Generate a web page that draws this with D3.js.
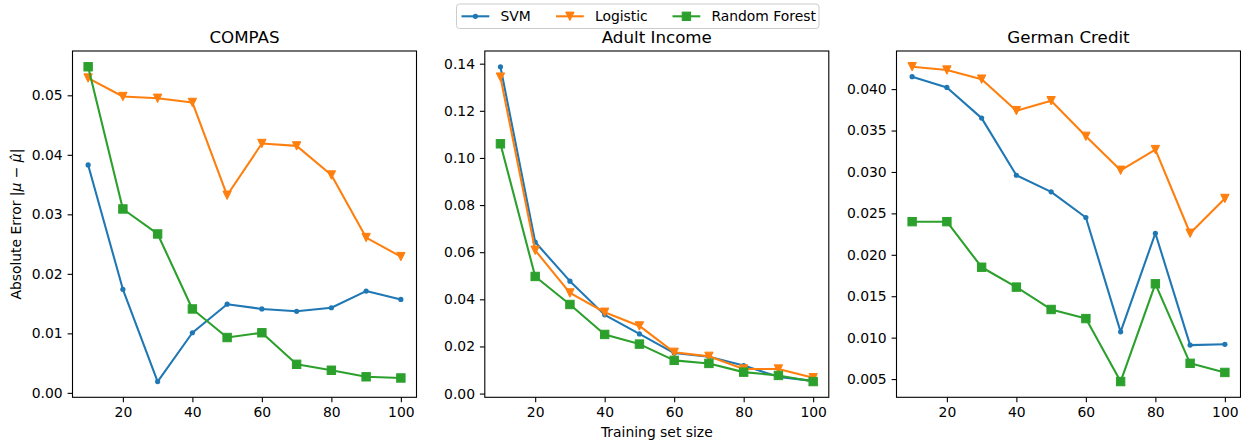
<!DOCTYPE html>
<html>
<head>
<meta charset="utf-8">
<script src="https://cdn.jsdelivr.net/npm/d3@7"></script>
<style>
  body { margin: 0; background: #fff; }
  text { font-family: "DejaVu Sans", sans-serif; fill: #000; }
</style>
</head>
<body>
<div id="chart"></div>
<script>
// training set sizes (x)
var sizes = [10, 20, 30, 40, 50, 60, 70, 80, 90, 100];
var models = ["SVM", "Logistic", "Random Forest"];
var colors = ["#1f77b4", "#ff7f0e", "#2ca02c"];

// COMPAS
var compasSVM = [0.0383, 0.0174, 0.0019, 0.0101, 0.0149, 0.0141, 0.0137, 0.0143, 0.0171, 0.0157];
var compasLog = [0.0529, 0.0498, 0.0495, 0.0488, 0.0332, 0.0419, 0.0415, 0.0366, 0.0261, 0.0229];
var compasRF  = [0.0548, 0.0309, 0.0267, 0.0141, 0.0093, 0.0101, 0.0048, 0.0038, 0.0027, 0.0025];

// Adult Income
var adultSVM = [0.1387, 0.0643, 0.0477, 0.0334, 0.0253, 0.0172, 0.0156, 0.0119, 0.0071, 0.0054];
var adultLog = [0.1343, 0.0608, 0.0427, 0.0345, 0.0287, 0.0175, 0.0158, 0.0104, 0.0104, 0.0067];
var adultRF  = [0.1060, 0.0497, 0.0378, 0.0251, 0.0210, 0.0141, 0.0128, 0.0091, 0.0077, 0.0051];

// German Credit
var germanSVM = [0.0415, 0.0402, 0.0365, 0.0296, 0.0276, 0.0245, 0.0107, 0.0226, 0.0091, 0.0092];
var germanLog = [0.0427, 0.0423, 0.0412, 0.0374, 0.0386, 0.0343, 0.0302, 0.0327, 0.0226, 0.0268];
var germanRF  = [0.0240, 0.0240, 0.0185, 0.0161, 0.0134, 0.0123, 0.0047, 0.0165, 0.0069, 0.0058];

var xTicks = [20, 40, 60, 80, 100];
var compasTicks = [0, 0.01, 0.02, 0.03, 0.04, 0.05];
var adultTicks = [0, 0.02, 0.04, 0.06, 0.08, 0.10, 0.12, 0.14];
var germanTicks = [0.005, 0.010, 0.015, 0.020, 0.025, 0.030, 0.035, 0.040];

var panels = [
  {title: "COMPAS", series: [compasSVM, compasLog, compasRF], ticks: compasTicks, fmt: ".2f", left: 72.5},
  {title: "Adult Income", series: [adultSVM, adultLog, adultRF], ticks: adultTicks, fmt: ".2f", left: 484.8},
  {title: "German Credit", series: [germanSVM, germanLog, germanRF], ticks: germanTicks, fmt: ".3f", left: 896.5}
];

var W = 1241, H = 440;
var plotTop = 51, plotBottom = 397.3, pw = 344;

var svg = d3.select("#chart").append("svg")
  .attr("width", W).attr("height", H);

function pad(ext) {
  var m = (ext[1] - ext[0]) * 0.05;
  return [ext[0] - m, ext[1] + m];
}

function drawMarker(g, i, cx, cy) {
  var c = colors[i];
  if (i === 0) {
    g.append("circle").attr("cx", cx).attr("cy", cy).attr("r", 2.6).attr("fill", c);
  } else if (i === 1) {
    var s = 4.2;
    g.append("path")
      .attr("d", "M" + (cx - s) + "," + (cy - s) + "L" + (cx + s) + "," + (cy - s) + "L" + cx + "," + (cy + s) + "Z")
      .attr("fill", c).attr("stroke", c).attr("stroke-width", 1).attr("stroke-linejoin", "miter");
  } else {
    g.append("rect").attr("x", cx - 4.2).attr("y", cy - 4.2).attr("width", 8.4).attr("height", 8.4)
      .attr("fill", c).attr("stroke", c).attr("stroke-width", 1);
  }
}

panels.forEach(function(p) {
  var x = d3.scaleLinear().domain(pad(d3.extent(sizes))).range([p.left, p.left + pw]);
  var all = [].concat.apply([], p.series);
  var y = d3.scaleLinear().domain(pad(d3.extent(all))).range([plotBottom, plotTop]);

  var g = svg.append("g");

  // axes
  var xa = g.append("g").attr("transform", "translate(0," + plotBottom + ")")
    .call(d3.axisBottom(x).tickValues(xTicks).tickSize(4.9).tickPadding(4.9).tickFormat(d3.format("d")));
  var ya = g.append("g").attr("transform", "translate(" + p.left + ",0)")
    .call(d3.axisLeft(y).tickValues(p.ticks).tickSize(4.9).tickPadding(4.9).tickFormat(d3.format(p.fmt)));
  [xa, ya].forEach(function(a) {
    a.select(".domain").remove();
    a.selectAll(".tick line").attr("stroke", "#000").attr("stroke-width", 1.1);
    a.selectAll(".tick text").style("font-size", "13.9px").style("font-family", "DejaVu Sans").attr("fill", "#000");
  });

  // series
  p.series.forEach(function(vals, i) {
    var line = d3.line().x(function(d, k) { return x(sizes[k]); }).y(function(d) { return y(d); });
    g.append("path").datum(vals).attr("d", line)
      .attr("fill", "none").attr("stroke", colors[i]).attr("stroke-width", 2.08).attr("stroke-linejoin", "round");
    vals.forEach(function(v, k) { drawMarker(g, i, x(sizes[k]), y(v)); });
  });

  // frame
  g.append("rect").attr("x", p.left).attr("y", plotTop).attr("width", pw).attr("height", plotBottom - plotTop)
    .attr("fill", "none").attr("stroke", "#000").attr("stroke-width", 1.1);

  g.append("text").attr("x", p.left + pw / 2).attr("y", plotTop - 8.5)
    .attr("text-anchor", "middle").style("font-size", "16.7px").text(p.title);
});

// y label
var yl = svg.append("text")
  .attr("transform", "translate(21," + ((plotTop + plotBottom) / 2) + ") rotate(-90)")
  .attr("text-anchor", "middle").style("font-size", "13.9px");
yl.append("tspan").text("Absolute Error |");
yl.append("tspan").style("font-style", "italic").text("μ");
yl.append("tspan").text(" − ");
yl.append("tspan").style("font-style", "italic").text("μ\u0302");
yl.append("tspan").text("|");

// x label
svg.append("text").attr("x", 484.8 + pw / 2).attr("y", 436.5)
  .attr("text-anchor", "middle").style("font-size", "13.9px").text("Training set size");

// legend
var lg = svg.append("g");
lg.append("rect").attr("x", 456.5).attr("y", 4).attr("width", 362.5).attr("height", 24.5)
  .attr("rx", 3).attr("fill", "#fff").attr("stroke", "#ccc").attr("stroke-width", 1);
var legX = [461.5, 556, 672.5];
models.forEach(function(m, i) {
  var lx = legX[i], ly = 16.3;
  lg.append("line").attr("x1", lx).attr("x2", lx + 27.8).attr("y1", ly).attr("y2", ly)
    .attr("stroke", colors[i]).attr("stroke-width", 2.08);
  drawMarker(lg, i, lx + 13.9, ly);
  lg.append("text").attr("x", lx + 38.9).attr("y", ly + 5).style("font-size", "13.9px").text(m);
});
</script>
</body>
</html>
